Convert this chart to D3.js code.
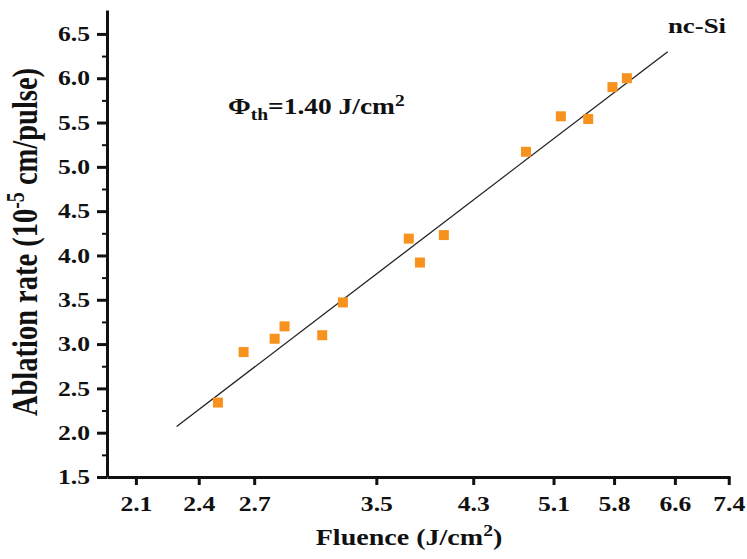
<!DOCTYPE html>
<html lang="en">
<head>
	<meta charset="UTF-8">
	<title>Ablation rate</title>
	<style>
		body { margin: 0; background: #fff; }
	</style>
</head>
<body>
	<svg width="747" height="559"></svg>

	<script src="https://d3js.org/d3.v7.min.js"></script>
	<script>
		// data
		var fluence = [2.50, 2.64, 2.82, 2.88, 3.12, 3.26, 3.75, 3.84, 4.04, 4.81, 5.18, 5.49, 5.78, 5.96];
		var rate    = [2.34, 2.91, 3.06, 3.20, 3.10, 3.47, 4.19, 3.92, 4.23, 5.17, 5.57, 5.54, 5.90, 6.00];
		var fitX = [2.29, 6.50];
		var fitY = [2.07, 6.30];
		var xTicks = [2.1, 2.4, 2.7, 3.5, 4.3, 5.1, 5.8, 6.6, 7.4];
		var yTicks = [1.5, 2.0, 2.5, 3.0, 3.5, 4.0, 4.5, 5.0, 5.5, 6.0, 6.5];
		var yMinor = [1.75, 2.25, 2.75, 3.25, 3.75, 4.25, 4.75, 5.25, 5.75, 6.25];

		var serif = "'Liberation Serif', 'Times New Roman', Times, serif";
		var stretch = 1.22; // the lettering in the picture is wider than plain Times
		var marge = {top:10, bottom:82, left:107, right:17};
		var svg = d3.select("svg");
		var width = +svg.attr("width");
		var height = +svg.attr("height");

		var x = d3.scaleLog()
			.domain([1.975, 7.42])
			.range([marge.left, width - marge.right]);
		var y = d3.scaleLinear()
			.domain([1.5, 6.77])
			.range([height - marge.bottom, marge.top]);

		// x axis
		var xAxis = svg.append("g")
			.attr("transform", "translate(0," + (height - marge.bottom) + ")")
			.call(d3.axisBottom(x).tickValues(xTicks).tickFormat(d3.format(".1f")).tickSize(8).tickSizeOuter(0).tickPadding(11));
		xAxis.select(".domain").attr("stroke", "#111").attr("stroke-width", 3);
		xAxis.selectAll(".tick line").attr("stroke", "#111").attr("stroke-width", 3);
		xAxis.selectAll(".tick text").attr("transform", "scale(" + stretch + ",1)");

		// y axis
		var yAxis = svg.append("g")
			.attr("transform", "translate(" + marge.left + ",0)")
			.call(d3.axisLeft(y).tickValues(yTicks).tickFormat(d3.format(".1f")).tickSize(10).tickSizeOuter(0));
		yAxis.select(".domain").attr("stroke", "#111").attr("stroke-width", 3);
		yAxis.selectAll(".tick line").attr("stroke", "#111").attr("stroke-width", 3);
		yAxis.selectAll(".tick text")
			.attr("x", -17 / stretch)
			.attr("transform", "scale(" + stretch + ",1)");

		var yAxisMinor = svg.append("g")
			.attr("transform", "translate(" + marge.left + ",0)")
			.call(d3.axisLeft(y).tickValues(yMinor).tickFormat("").tickSize(5).tickSizeOuter(0));
		yAxisMinor.select(".domain").remove();
		yAxisMinor.selectAll(".tick line").attr("stroke", "#111").attr("stroke-width", 2);

		svg.selectAll(".tick text")
			.style("font-family", serif)
			.style("font-weight", "bold")
			.style("font-size", "21px")
			.attr("fill", "#111");

		// fit line
		svg.append("line")
			.attr("x1", x(fitX[0])).attr("y1", y(fitY[0]))
			.attr("x2", x(fitX[1])).attr("y2", y(fitY[1]))
			.attr("stroke", "#222")
			.attr("stroke-width", 1.3);

		// points
		var size = 10;
		svg.append("g")
			.selectAll("rect")
			.data(fluence)
			.enter()
			.append("rect")
			.attr("x", function(d){ return x(d) - size/2; })
			.attr("y", function(d, i){ return y(rate[i]) - size/2; })
			.attr("width", size)
			.attr("height", size)
			.attr("fill", "#f7921e");

		// labels
		function label(tf, fs){
			return svg.append("text")
				.attr("transform", tf)
				.style("font-family", serif)
				.style("font-weight", "bold")
				.style("font-size", fs + "px")
				.attr("fill", "#111");
		}

		label("translate(697,33) scale(" + stretch + ",1)", 22)
			.attr("text-anchor", "middle")
			.text("nc-Si");

		var phi = label("translate(228,114) scale(" + stretch + ",1)", 22.5);
		phi.append("tspan").text("\u03A6");
		phi.append("tspan").attr("dy", 6).style("font-size", "16px").text("th");
		phi.append("tspan").attr("dy", -6).text("=1.40 J/cm");
		phi.append("tspan").attr("dy", -8).style("font-size", "16px").text("2");

		var xt = label("translate(409,545) scale(" + stretch + ",1)", 23)
			.attr("text-anchor", "middle");
		xt.append("tspan").text("Fluence (J/cm");
		xt.append("tspan").attr("dy", -9).style("font-size", "16px").text("2");
		xt.append("tspan").attr("dy", 9).text(")");

		var yt = label("translate(37,242) rotate(-90) scale(1," + stretch + ")", 28.5)
			.attr("text-anchor", "middle");
		yt.append("tspan").text("Ablation rate (10");
		yt.append("tspan").attr("dy", -11).style("font-size", "20px").text("-5");
		yt.append("tspan").attr("dy", 11).text(" cm/pulse)");
	</script>
</body>
</html>
